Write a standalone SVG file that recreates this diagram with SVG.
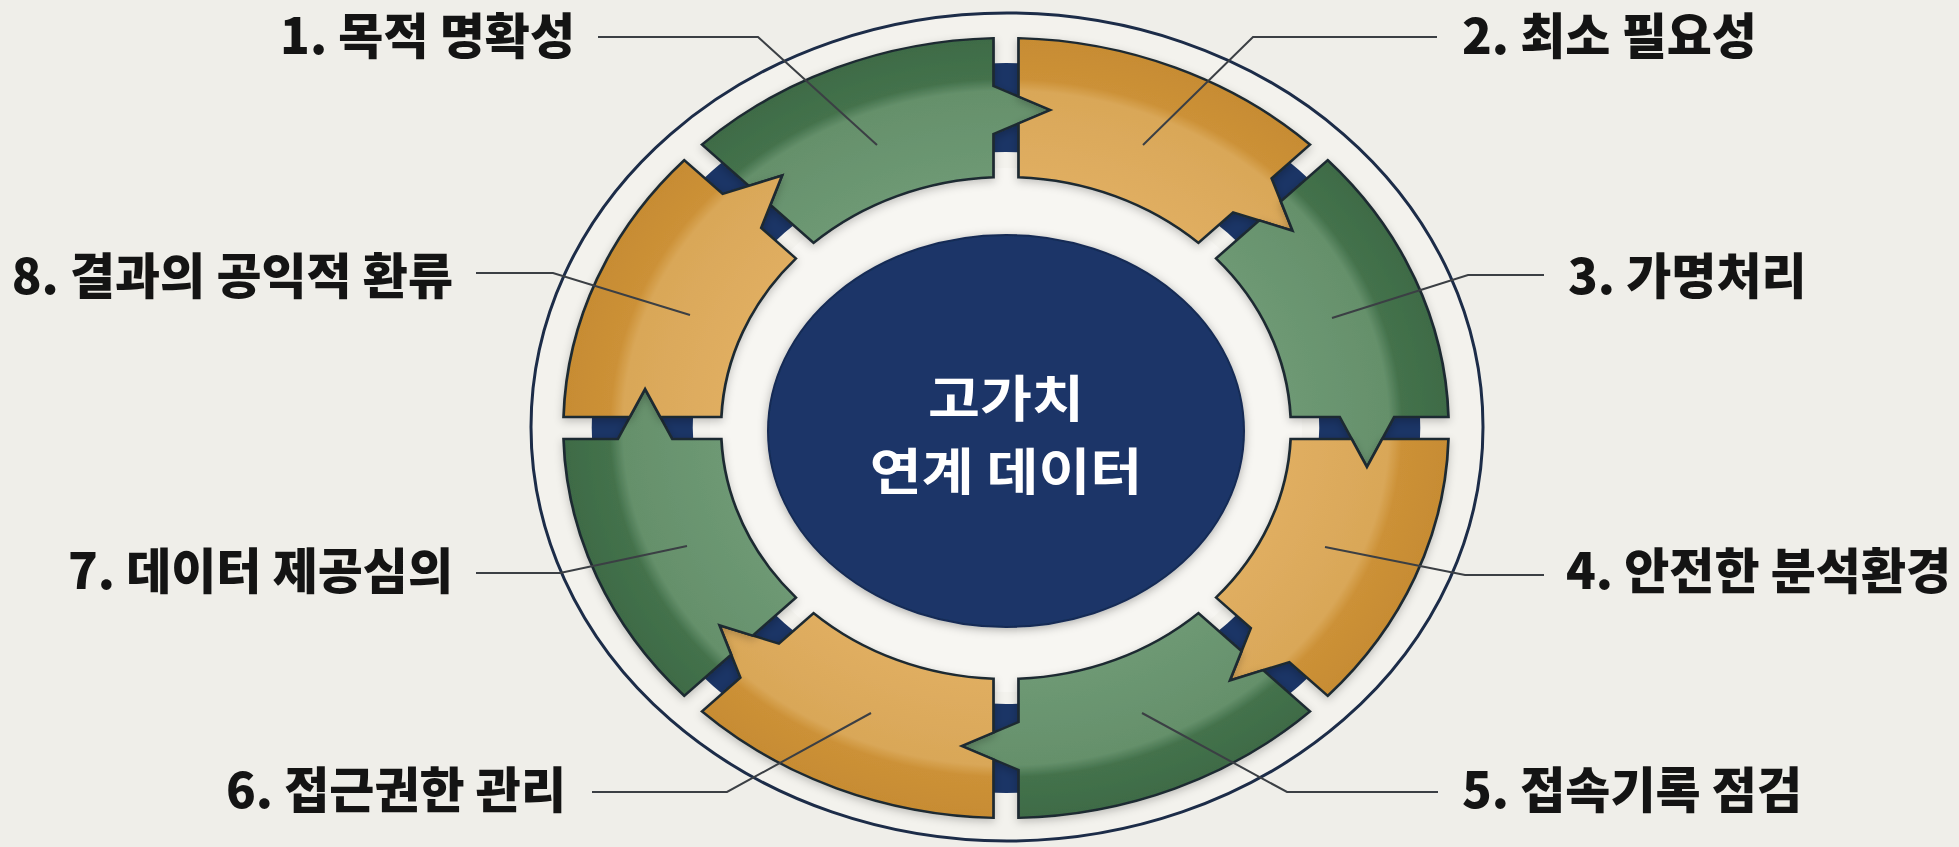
<svg xmlns="http://www.w3.org/2000/svg" xmlns:xlink="http://www.w3.org/1999/xlink" width="1959" height="847" viewBox="0 0 1959 847">
<style>
  .lbl{font-family:"Noto Sans CJK KR","Noto Sans",sans-serif;font-size:49px;font-weight:900;fill:#141414}
  .end{text-anchor:end}
  .ctr{font-family:"Noto Sans CJK KR","Noto Sans",sans-serif;font-size:50px;font-weight:700;fill:#ffffff;text-anchor:middle}
  .lead{fill:none;stroke:#3b3f44;stroke-width:2}
  .seg{stroke:#1f2a31;stroke-width:2.4;stroke-linejoin:miter}
  .green{fill:url(#gGreen)}
  .orange{fill:url(#gOrange)}
</style>
<defs>
  <radialGradient id="gGreen" gradientUnits="userSpaceOnUse" cx="0" cy="0" r="390">
    <stop offset="0.64" stop-color="#6e9974"/>
    <stop offset="0.865" stop-color="#65906b"/>
    <stop offset="0.895" stop-color="#44724c"/>
    <stop offset="1" stop-color="#3e6b46"/>
  </radialGradient>
  <radialGradient id="gOrange" gradientUnits="userSpaceOnUse" cx="0" cy="0" r="390">
    <stop offset="0.64" stop-color="#e0ae61"/>
    <stop offset="0.865" stop-color="#d9a758"/>
    <stop offset="0.895" stop-color="#cc9137"/>
    <stop offset="1" stop-color="#c78c33"/>
  </radialGradient>
  <path id="segShape" d="M250.76 11 L304.56 11 L318 39 L331.44 11 L389.84 11 A390 390 0 0 1 283.44 267.88 L249.61 234.05 L197.28 252.44 L215.67 200.11 L185.09 169.54 A251 251 0 0 0 250.76 11 Z"/>
  <filter id="sh" x="-20%" y="-20%" width="140%" height="140%">
    <feDropShadow dx="0" dy="3" stdDeviation="4" flood-color="#000000" flood-opacity="0.22"/>
  </filter>
  <filter id="shc" x="-20%" y="-20%" width="140%" height="140%">
    <feDropShadow dx="0" dy="2" stdDeviation="5" flood-color="#000000" flood-opacity="0.3"/>
  </filter>
</defs>

<rect x="0" y="0" width="1959" height="847" fill="#efeee9"/>

<g id="frame">
  <ellipse cx="1007" cy="427" rx="476" ry="414" fill="#f3f2ed" stroke="#1c2c48" stroke-width="3"/>
  <ellipse cx="1006" cy="430" rx="296" ry="262" fill="#f7f6f2"/>
  <circle transform="translate(1006,428) scale(1.135,1)" r="320.5" fill="none" stroke="#1b3566" stroke-width="89"/>
</g>

<g id="node1">
  <g filter="url(#sh)"><use xlink:href="#segShape" href="#segShape" class="seg green" transform="translate(1006,428) scale(1.135,1) rotate(-135)"/></g>
  <text class="lbl end" x="575" y="54">1. 목적 명확성</text>
</g>
<g id="node2">
  <g filter="url(#sh)"><use xlink:href="#segShape" href="#segShape" class="seg orange" transform="translate(1006,428) scale(1.135,1) rotate(-90)"/></g>
  <text class="lbl" x="1462" y="54">2. 최소 필요성</text>
</g>
<g id="node3">
  <g filter="url(#sh)"><use xlink:href="#segShape" href="#segShape" class="seg green" transform="translate(1006,428) scale(1.135,1) rotate(-45)"/></g>
  <text class="lbl" x="1568" y="294">3. 가명처리</text>
</g>
<g id="node4">
  <g filter="url(#sh)"><use xlink:href="#segShape" href="#segShape" class="seg orange" transform="translate(1006,428) scale(1.135,1)"/></g>
  <text class="lbl" x="1566" y="589">4. 안전한 분석환경</text>
</g>
<g id="node5">
  <g filter="url(#sh)"><use xlink:href="#segShape" href="#segShape" class="seg green" transform="translate(1006,428) scale(1.135,1) rotate(45)"/></g>
  <text class="lbl" x="1462" y="808">5. 접속기록 점검</text>
</g>
<g id="node6">
  <g filter="url(#sh)"><use xlink:href="#segShape" href="#segShape" class="seg orange" transform="translate(1006,428) scale(1.135,1) rotate(90)"/></g>
  <text class="lbl end" x="566" y="808">6. 접근권한 관리</text>
</g>
<g id="node7">
  <g filter="url(#sh)"><use xlink:href="#segShape" href="#segShape" class="seg green" transform="translate(1006,428) scale(1.135,1) rotate(135)"/></g>
  <text class="lbl end" x="453" y="589">7. 데이터 제공심의</text>
</g>
<g id="node8">
  <g filter="url(#sh)"><use xlink:href="#segShape" href="#segShape" class="seg orange" transform="translate(1006,428) scale(1.135,1) rotate(180)"/></g>
  <text class="lbl end" x="453" y="294">8. 결과의 공익적 환류</text>
</g>

<g id="center">
  <ellipse cx="1006" cy="431" rx="238" ry="196" fill="#1b3667" stroke="#162c55" stroke-width="2" filter="url(#shc)"/>
  <text class="ctr" transform="translate(1006,0) scale(1.13,1)"><tspan x="0" y="417">고가치</tspan><tspan x="0" y="490">연계 데이터</tspan></text>
</g>

<g id="connectors">
  <path class="lead" d="M598 37 H758 L877 145"/>
  <path class="lead" d="M1437 37 H1253 L1143 145"/>
  <path class="lead" d="M1544 275 H1468 L1332 318"/>
  <path class="lead" d="M1544 575 H1465 L1325 547"/>
  <path class="lead" d="M1438 792 H1287 L1142 713"/>
  <path class="lead" d="M592 792 H727 L871 713"/>
  <path class="lead" d="M476 573 H560 L687 546"/>
  <path class="lead" d="M476 273 H553 L690 315"/>
</g>
</svg>
